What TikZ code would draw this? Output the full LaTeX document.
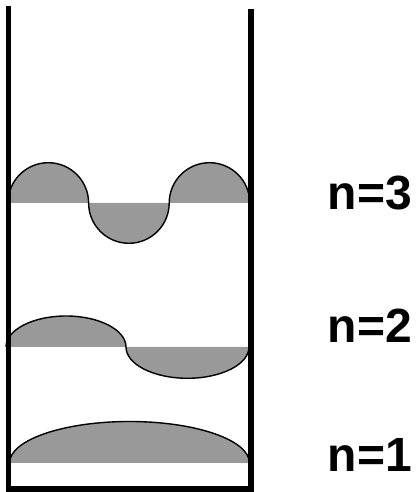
\documentclass[tikz,border=0pt]{standalone}
\usepackage{fontspec}
\setmainfont{Liberation Sans}
\usepackage{tikz}
\usetikzlibrary{positioning}
\definecolor{wavegray}{RGB}{153,153,153}
\tikzset{
  wall/.style={line width=5.5pt, line join=miter},
  wavefill/.style={fill=wavegray},
  waveline/.style={line width=1.4pt},
  level/.style={font=\bfseries\fontsize{48}{50}\selectfont, inner sep=0pt, anchor=base east}
}

\begin{document}
\begin{tikzpicture}[x=1pt,y=1pt]
            \useasboundingbox (0,0) rectangle (415,492);

            \fill[wavefill] (8,289) arc[start angle=180,end angle=0,radius=40.3]
                arc[start angle=180,end angle=360,radius=40.3]
                arc[start angle=180,end angle=0,radius=40.3] -- cycle;
            \draw[waveline] (8,289) arc[start angle=180,end angle=0,radius=40.3]
                arc[start angle=180,end angle=360,radius=40.3]
                arc[start angle=180,end angle=0,radius=40.3];

            \fill[wavefill] (6,145) arc[start angle=180,end angle=0,x radius=60,y radius=31]
                arc[start angle=180,end angle=360,x radius=61.5,y radius=31.3] -- cycle;
            \draw[waveline] (6,145) arc[start angle=180,end angle=0,x radius=60,y radius=31]
                arc[start angle=180,end angle=360,x radius=61.5,y radius=31.3];

            \fill[wavefill] (9.5,29) arc[start angle=180,end angle=0,x radius=120,y radius=41.5] -- cycle;
            \draw[waveline] (9.5,29) arc[start angle=180,end angle=0,x radius=120,y radius=41.5];

            \draw[wall] (8.5,486) -- (8.5,3) -- (251,3) -- (251,483);

            \node[level] (n3) at (412,282) {n=3};
            \node[level] (n2) at (412,149) {n=2};
            \node[level] (n1) at (412,20.3) {n=1};
    \end{tikzpicture}
\end{document}
